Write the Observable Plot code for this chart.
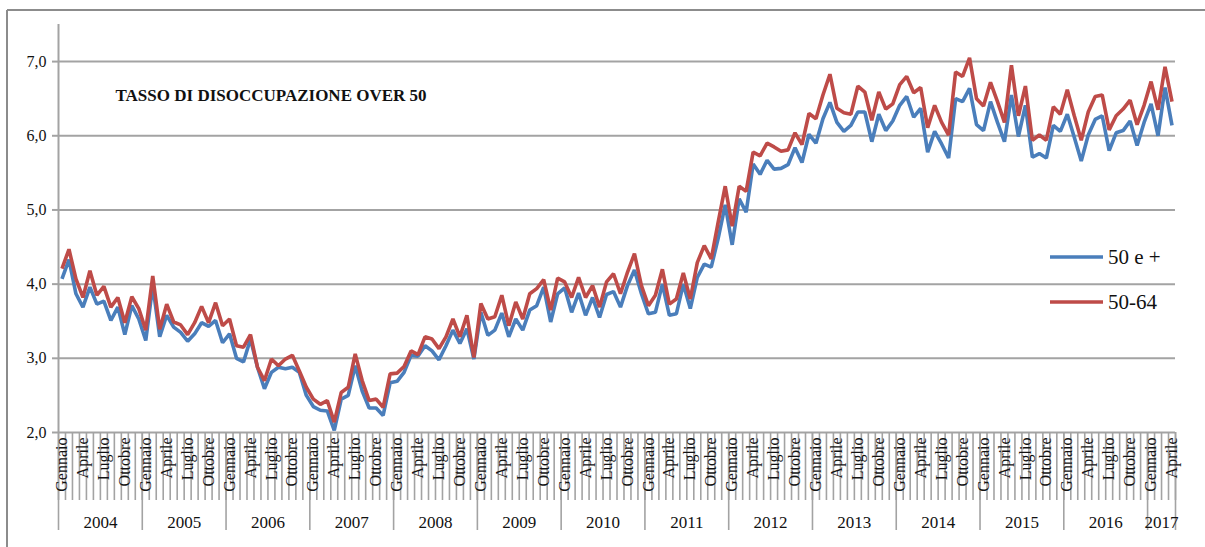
<!DOCTYPE html>
<html>
<head>
<meta charset="utf-8">
<script src="https://cdn.jsdelivr.net/npm/d3@7"></script>
<script src="https://cdn.jsdelivr.net/npm/@observablehq/plot@0.6"></script>
<style>
  html, body { margin: 0; padding: 0; background: #fff; }
  #chart { width: 1205px; height: 547px; overflow: hidden; }
</style>
</head>
<body>
<div id="chart"></div>
<script>
const title = "TASSO DI DISOCCUPAZIONE OVER 50";
const years = [2004, 2005, 2006, 2007, 2008, 2009, 2010, 2011, 2012, 2013, 2014, 2015, 2016, 2017];
const monthLabels = ["Gennaio", "", "", "Aprile", "", "", "Luglio", "", "", "Ottobre", "", ""];
const seriesNames = ["50 e +", "50-64"];
const seriesColors = ["#4a7ebb", "#be4b48"];
const yTicks = [2, 3, 4, 5, 6, 7];

const over50 = [
  4.07, 4.33, 3.87, 3.69, 3.96, 3.73, 3.77, 3.51, 3.69, 3.32, 3.71, 3.53,
  3.24, 3.98, 3.29, 3.58, 3.42, 3.35, 3.23, 3.33, 3.48, 3.43, 3.51, 3.21,
  3.33, 3.00, 2.95, 3.26, 2.88, 2.59, 2.81, 2.88, 2.86, 2.88, 2.81, 2.50,
  2.35, 2.30, 2.29, 2.03, 2.45, 2.50, 2.90, 2.56, 2.33, 2.33, 2.23, 2.67,
  2.69, 2.81, 3.04, 3.03, 3.17, 3.10, 2.98, 3.17, 3.38, 3.20, 3.40, 2.99,
  3.62, 3.31, 3.38, 3.61, 3.29, 3.53, 3.38, 3.65, 3.71, 3.96, 3.49, 3.87,
  3.95, 3.62, 3.88, 3.58, 3.82, 3.55, 3.86, 3.90, 3.69, 3.98, 4.19, 3.87,
  3.60, 3.62, 4.00, 3.58, 3.60, 4.00, 3.67, 4.09, 4.27, 4.23, 4.62, 5.07,
  4.53, 5.15, 4.97, 5.62, 5.48, 5.67, 5.55, 5.56, 5.61, 5.84, 5.64, 6.02,
  5.90, 6.23, 6.45, 6.18, 6.06, 6.14, 6.32, 6.32, 5.92, 6.29, 6.07, 6.20,
  6.41, 6.53, 6.25, 6.37, 5.78, 6.06, 5.89, 5.70, 6.50, 6.46, 6.64, 6.15,
  6.07, 6.46, 6.18, 5.92, 6.55, 5.99, 6.41, 5.71, 5.76, 5.70, 6.14, 6.06,
  6.29, 5.98, 5.66, 6.01, 6.22, 6.27, 5.80, 6.04, 6.07, 6.20, 5.87, 6.18,
  6.43, 6.00, 6.65, 6.14
];

const age5064 = [
  4.21, 4.47, 4.07, 3.82, 4.18, 3.85, 3.97, 3.69, 3.82, 3.48, 3.83, 3.67,
  3.38, 4.11, 3.39, 3.73, 3.49, 3.45, 3.32, 3.48, 3.70, 3.48, 3.75, 3.44,
  3.53, 3.17, 3.15, 3.32, 2.88, 2.70, 2.99, 2.90, 2.99, 3.04, 2.83, 2.61,
  2.45, 2.38, 2.43, 2.14, 2.54, 2.61, 3.06, 2.70, 2.43, 2.45, 2.34, 2.79,
  2.80, 2.89, 3.10, 3.05, 3.29, 3.26, 3.13, 3.29, 3.53, 3.29, 3.58, 3.01,
  3.74, 3.53, 3.56, 3.85, 3.44, 3.76, 3.53, 3.87, 3.94, 4.06, 3.65, 4.08,
  4.03, 3.82, 4.09, 3.82, 3.98, 3.69, 4.03, 4.14, 3.87, 4.16, 4.41, 3.98,
  3.71, 3.85, 4.20, 3.73, 3.80, 4.15, 3.80, 4.29, 4.52, 4.34, 4.84, 5.32,
  4.78, 5.32, 5.25, 5.78, 5.73, 5.90, 5.85, 5.79, 5.81, 6.04, 5.88, 6.30,
  6.23, 6.55, 6.83, 6.37, 6.31, 6.29, 6.67, 6.59, 6.21, 6.59, 6.36, 6.43,
  6.69, 6.80, 6.58, 6.65, 6.11, 6.41, 6.18, 6.01, 6.86, 6.80, 7.05, 6.50,
  6.40, 6.72, 6.46, 6.18, 6.95, 6.27, 6.67, 5.94, 6.01, 5.94, 6.39, 6.29,
  6.62, 6.27, 5.94, 6.32, 6.53, 6.55, 6.08, 6.27, 6.36, 6.48, 6.15, 6.41,
  6.73, 6.35, 6.93, 6.46
];

// Build tables
const nMonths = over50.length;
const months = d3.range(nMonths).map(i => ({
  i,
  year: years[0] + Math.floor(i / 12),
  label: monthLabels[i % 12],
  a: over50[i],
  b: age5064[i]
}));
const longData = months.flatMap(d => [
  {i: d.i, v: d.a, s: seriesNames[0]},
  {i: d.i, v: d.b, s: seriesNames[1]}
]);
const boundaries = d3.range(nMonths + 1);
const yearBounds = boundaries.filter(b => b % 12 === 0 || b === nMonths);
const yearSpans = years.map((y, k) => ({
  year: y,
  mid: (yearBounds[k] + yearBounds[k + 1]) / 2
}));
const labelled = months.filter(d => d.label !== "");

const W = 1205, H = 547;
const mL = 58, mR = 30, mT = 24, mB = 115;
const plotH = H - mT - mB;
const grid = "#a3a3a3";

const chart = Plot.plot({
  width: W,
  height: H,
  marginLeft: mL,
  marginRight: mR,
  marginTop: mT,
  marginBottom: mB,
  style: {fontFamily: "'Liberation Serif', serif", background: "#fff", color: "#111"},
  x: {type: "linear", domain: [0, nMonths], axis: null, label: null},
  y: {domain: [2, 7.5], axis: null, label: null},
  color: {domain: seriesNames, range: seriesColors},
  marks: [
    Plot.ruleY(yTicks, {stroke: grid, strokeWidth: 2}),
    Plot.axisY({
      ticks: yTicks, tickSize: 6, tickPadding: 6, label: null,
      tickFormat: d => d.toFixed(1).replace(".", ","),
      stroke: grid, strokeWidth: 2, fontSize: 16, fill: "#111"
    }),
    Plot.ruleX([0], {stroke: grid, strokeWidth: 2}),
    // month tick lines below the axis
    Plot.ruleX(boundaries, {x: d => d, insetTop: plotH, insetBottom: -68, stroke: grid, strokeWidth: 1.6}),
    // year separators
    Plot.ruleX(yearBounds, {x: d => d, insetTop: plotH, insetBottom: -98, stroke: grid, strokeWidth: 1.6}),
    Plot.text(labelled, {
      x: d => d.i + 0.5, text: "label", frameAnchor: "bottom",
      rotate: -90, textAnchor: "end", lineAnchor: "middle",
      dy: 5, fontSize: 16, fill: "#111"
    }),
    Plot.text(yearSpans, {
      x: "mid", text: d => String(d.year), frameAnchor: "bottom",
      dy: 90, lineAnchor: "middle", fontSize: 17, fill: "#111"
    }),
    Plot.line(longData, {
      x: d => d.i + 0.5, y: "v", z: "s", stroke: "s",
      strokeWidth: 3.6, strokeLinejoin: "miter", strokeLinecap: "butt"
    }),
    Plot.text([title], {
      frameAnchor: "top-left", dx: 57, dy: 71, lineAnchor: "middle",
      fontWeight: "bold", fontSize: 17, fill: "#111"
    })
  ]
});

document.getElementById("chart").appendChild(chart);

// outer frame (top and left edges) and legend
const svg = d3.select(chart);
svg.append("line").attr("x1", 7).attr("x2", W).attr("y1", 10).attr("y2", 10)
  .attr("stroke", "#8c8c8c").attr("stroke-width", 2);
svg.append("line").attr("x1", 7).attr("x2", 7).attr("y1", 10).attr("y2", H)
  .attr("stroke", "#8c8c8c").attr("stroke-width", 2);

const legend = svg.append("g")
  .attr("font-family", "'Liberation Serif', serif")
  .attr("text-anchor", "start");
seriesNames.forEach((name, k) => {
  const y = 257 + k * 45;
  legend.append("line").attr("x1", 1050).attr("x2", 1103).attr("y1", y).attr("y2", y)
    .attr("stroke", seriesColors[k]).attr("stroke-width", 3.6);
  legend.append("text").attr("x", 1108).attr("y", y).attr("dy", "0.35em")
    .attr("text-anchor", "start")
    .attr("font-size", 21).attr("fill", "#111").text(name);
});
</script>
</body>
</html>
